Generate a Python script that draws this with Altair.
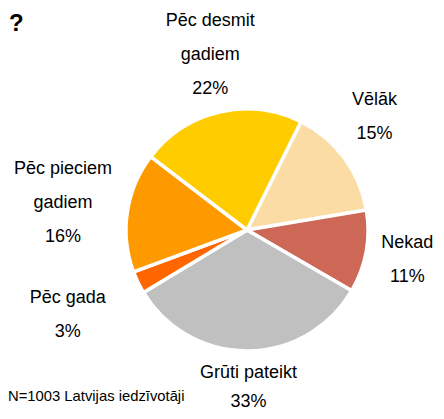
import math
import altair as alt
import pandas as pd

# ---- data ----
categories = ["Vēlāk", "Nekad", "Grūti pateikt", "Pēc gada", "Pēc pieciem gadiem", "Pēc desmit gadiem"]
label_lines = ["Vēlāk", "Nekad", "Grūti pateikt", "Pēc gada", "Pēc pieciem\ngadiem", "Pēc desmit\ngadiem"]
values = [15, 11, 33, 3, 16, 22]
colors = ["#FCDCA5", "#CD6756", "#C0C0C0", "#FF6600", "#FF9900", "#FFCC00"]
footnote = ["N=1003 Latvijas iedzīvotāji"]

df = pd.DataFrame({"name": categories, "label": label_lines, "value": values,
                   "idx": list(range(len(categories)))})

CX, CY = 239, 222
R = 121
offset = math.radians(26.5)
theta_scale = alt.Scale(domain=[0, 100], range=[offset, offset + 2 * math.pi])
FONT = "Liberation Sans"
LH = 34

base = (
    alt.Chart(df)
    .transform_window(cum="sum(value)", frame=[None, 0], sort=[alt.SortField("idx")])
    .transform_calculate(
        start="datum.cum - datum.value",
        mid="datum.cum - datum.value / 2",
        txt="datum.label + '\\n' + datum.value + '%'",
    )
)

arcs = base.mark_arc(outerRadius=R, stroke="white", strokeWidth=3.5).encode(
    theta=alt.Theta("start:Q", scale=theta_scale, stack=False),
    theta2="cum:Q",
    color=alt.Color("name:N", scale=alt.Scale(domain=categories, range=colors), legend=None),
    x=alt.value(CX),
    y=alt.value(CY),
)


def label_layer(group, radius, nlines, dx=0, dy=0, lh=LH):
    return (
        base.transform_filter(alt.FieldOneOfPredicate(field="name", oneOf=group))
        .mark_text(font=FONT, fontSize=18, lineBreak="\n", lineHeight=lh,
                   align="center", baseline="middle", color="#000000", radius=radius,
                   dx=dx, dy=-(nlines - 1) * lh / 2 + dy)
        .encode(
            theta=alt.Theta("mid:Q", scale=theta_scale, stack=False),
            text="txt:N",
            x=alt.value(CX),
            y=alt.value(CY),
        )
    )


labels = [
    label_layer(["Pēc desmit gadiem"], 180, 3, dx=4),
    label_layer(["Pēc pieciem gadiem"], 186, 3),
    label_layer(["Vēlāk"], 166, 2, dx=-6, dy=-14),
    label_layer(["Nekad"], 166, 2, dx=-3),
    label_layer(["Grūti pateikt"], 166, 2, dy=-8.5, lh=29),
    label_layer(["Pēc gada"], 199, 2, dy=-1),
]

foot = (
    alt.Chart(pd.DataFrame({"t": footnote}))
    .mark_text(font=FONT, fontSize=14.8, align="left", baseline="middle", color="#000000")
    .encode(text="t:N", x=alt.value(0), y=alt.value(389))
)

qmark = (
    alt.Chart(pd.DataFrame({"t": ["?"]}))
    .mark_text(font=FONT, fontSize=24, fontWeight="bold", align="left", baseline="middle", color="#000000")
    .encode(text="t:N", x=alt.value(1), y=alt.value(16))
)

chart = (
    alt.layer(arcs, *labels, foot, qmark)
    .properties(width=428, height=403, autosize=alt.AutoSizeParams(type="none"),
                padding=0, background="white")
    .configure_view(strokeWidth=0, stroke="transparent")
)

chart.save("out.html", embed_options={"renderer": "svg", "actions": False})
